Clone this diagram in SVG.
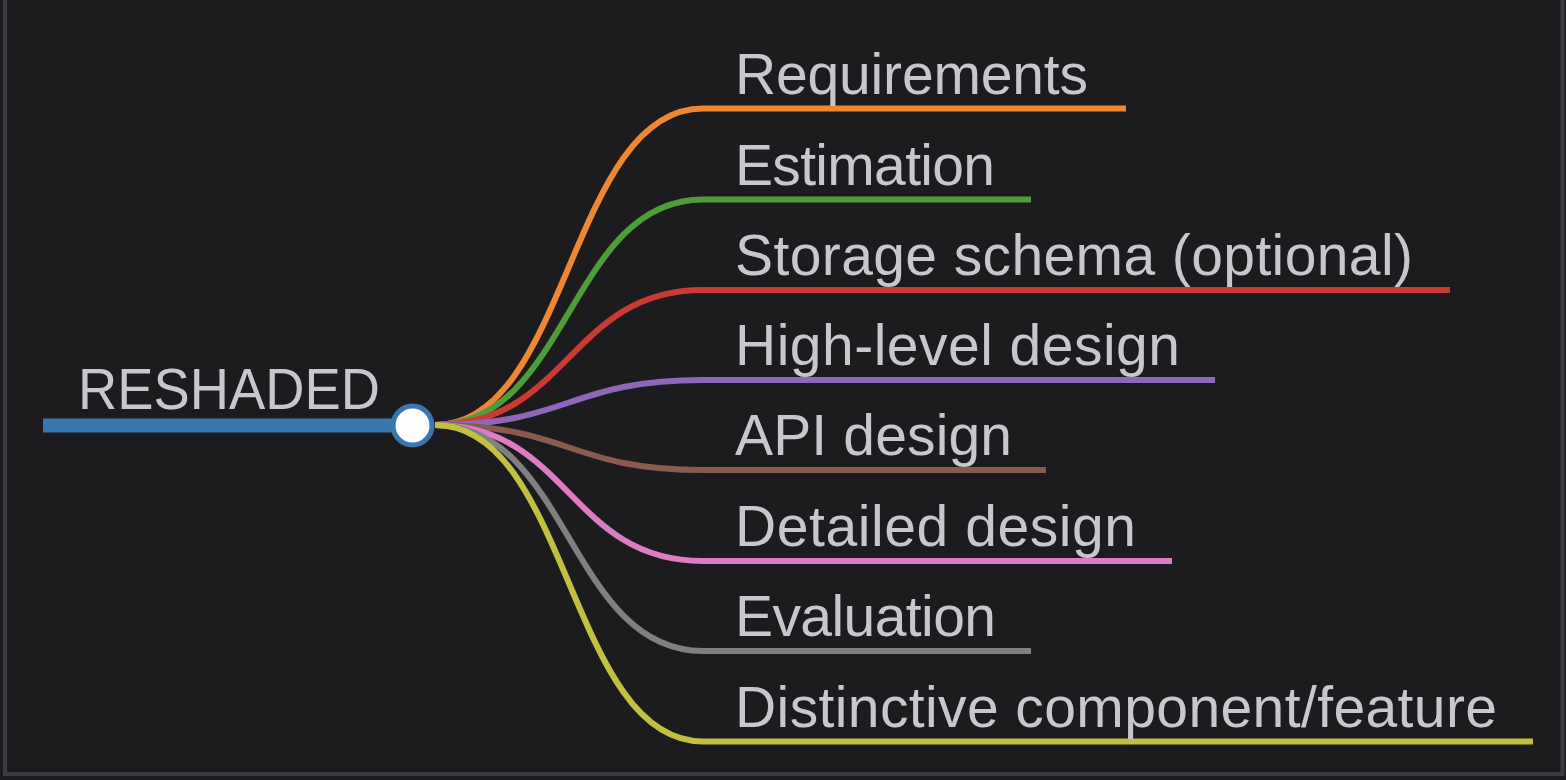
<svg xmlns="http://www.w3.org/2000/svg" width="1566" height="780" viewBox="0 0 1566 780">
  <style>
    .label { font-family: "Liberation Sans", Arial, sans-serif; font-size: 57px; fill: #c8c8cc; }
    .link { fill: none; stroke-width: 6; stroke-linecap: butt; }
  </style>
  <!-- canvas and frame -->
  <rect x="0" y="0" width="1566" height="780" fill="#1c1c1e"/>
  <rect x="5" y="-10" width="1557.5" height="784" fill="none" stroke="#393c43" stroke-width="4"/>

  <!-- links from the root to each branch -->
  <g id="connectors">
    <path class="link" stroke="#ed8733" d="M435,425 C569,425 569,108.5 703,108.5 H1126"/>
    <path class="link" stroke="#4e9c3a" d="M435,425 C569,425 569,199.5 703,199.5 H1031"/>
    <path class="link" stroke="#c93a33" d="M435,425 C569,425 569,290 703,290 H1450"/>
    <path class="link" stroke="#8f66b8" d="M435,425 C569,425 569,380 703,380 H1215"/>
    <path class="link" stroke="#8a5a4e" d="M435,425 C569,425 569,470 703,470 H1046"/>
    <path class="link" stroke="#dc7cc4" d="M435,425 C569,425 569,561 703,561 H1172"/>
    <path class="link" stroke="#808080" d="M435,425 C569,425 569,651 703,651 H1031"/>
    <path class="link" stroke="#c1c040" d="M435,425 C569,425 569,741.5 703,741.5 H1533"/>
  </g>

  <!-- root node -->
  <g id="root">
    <line x1="43" y1="425.5" x2="400" y2="425.5" stroke="#3a76b0" stroke-width="14"/>
    <circle cx="412.5" cy="425.5" r="19.5" fill="#ffffff" stroke="#3a76b0" stroke-width="5"/>
    <text class="label" x="78" y="409" font-size="56" textLength="302" lengthAdjust="spacingAndGlyphs">RESHADED</text>
  </g>

  <!-- branch nodes -->
  <g id="requirements"><text class="label" x="735" y="93.5" textLength="353">Requirements</text></g>
  <g id="estimation"><text class="label" x="735" y="184.5" textLength="260">Estimation</text></g>
  <g id="storage-schema"><text class="label" x="735" y="275" textLength="678">Storage schema (optional)</text></g>
  <g id="high-level-design"><text class="label" x="735" y="365" textLength="445">High-level design</text></g>
  <g id="api-design"><text class="label" x="735" y="455" textLength="277">API design</text></g>
  <g id="detailed-design"><text class="label" x="735" y="546" textLength="401">Detailed design</text></g>
  <g id="evaluation"><text class="label" x="735" y="636" textLength="261">Evaluation</text></g>
  <g id="distinctive-feature"><text class="label" x="735" y="726.5" textLength="762">Distinctive component/feature</text></g>
</svg>
